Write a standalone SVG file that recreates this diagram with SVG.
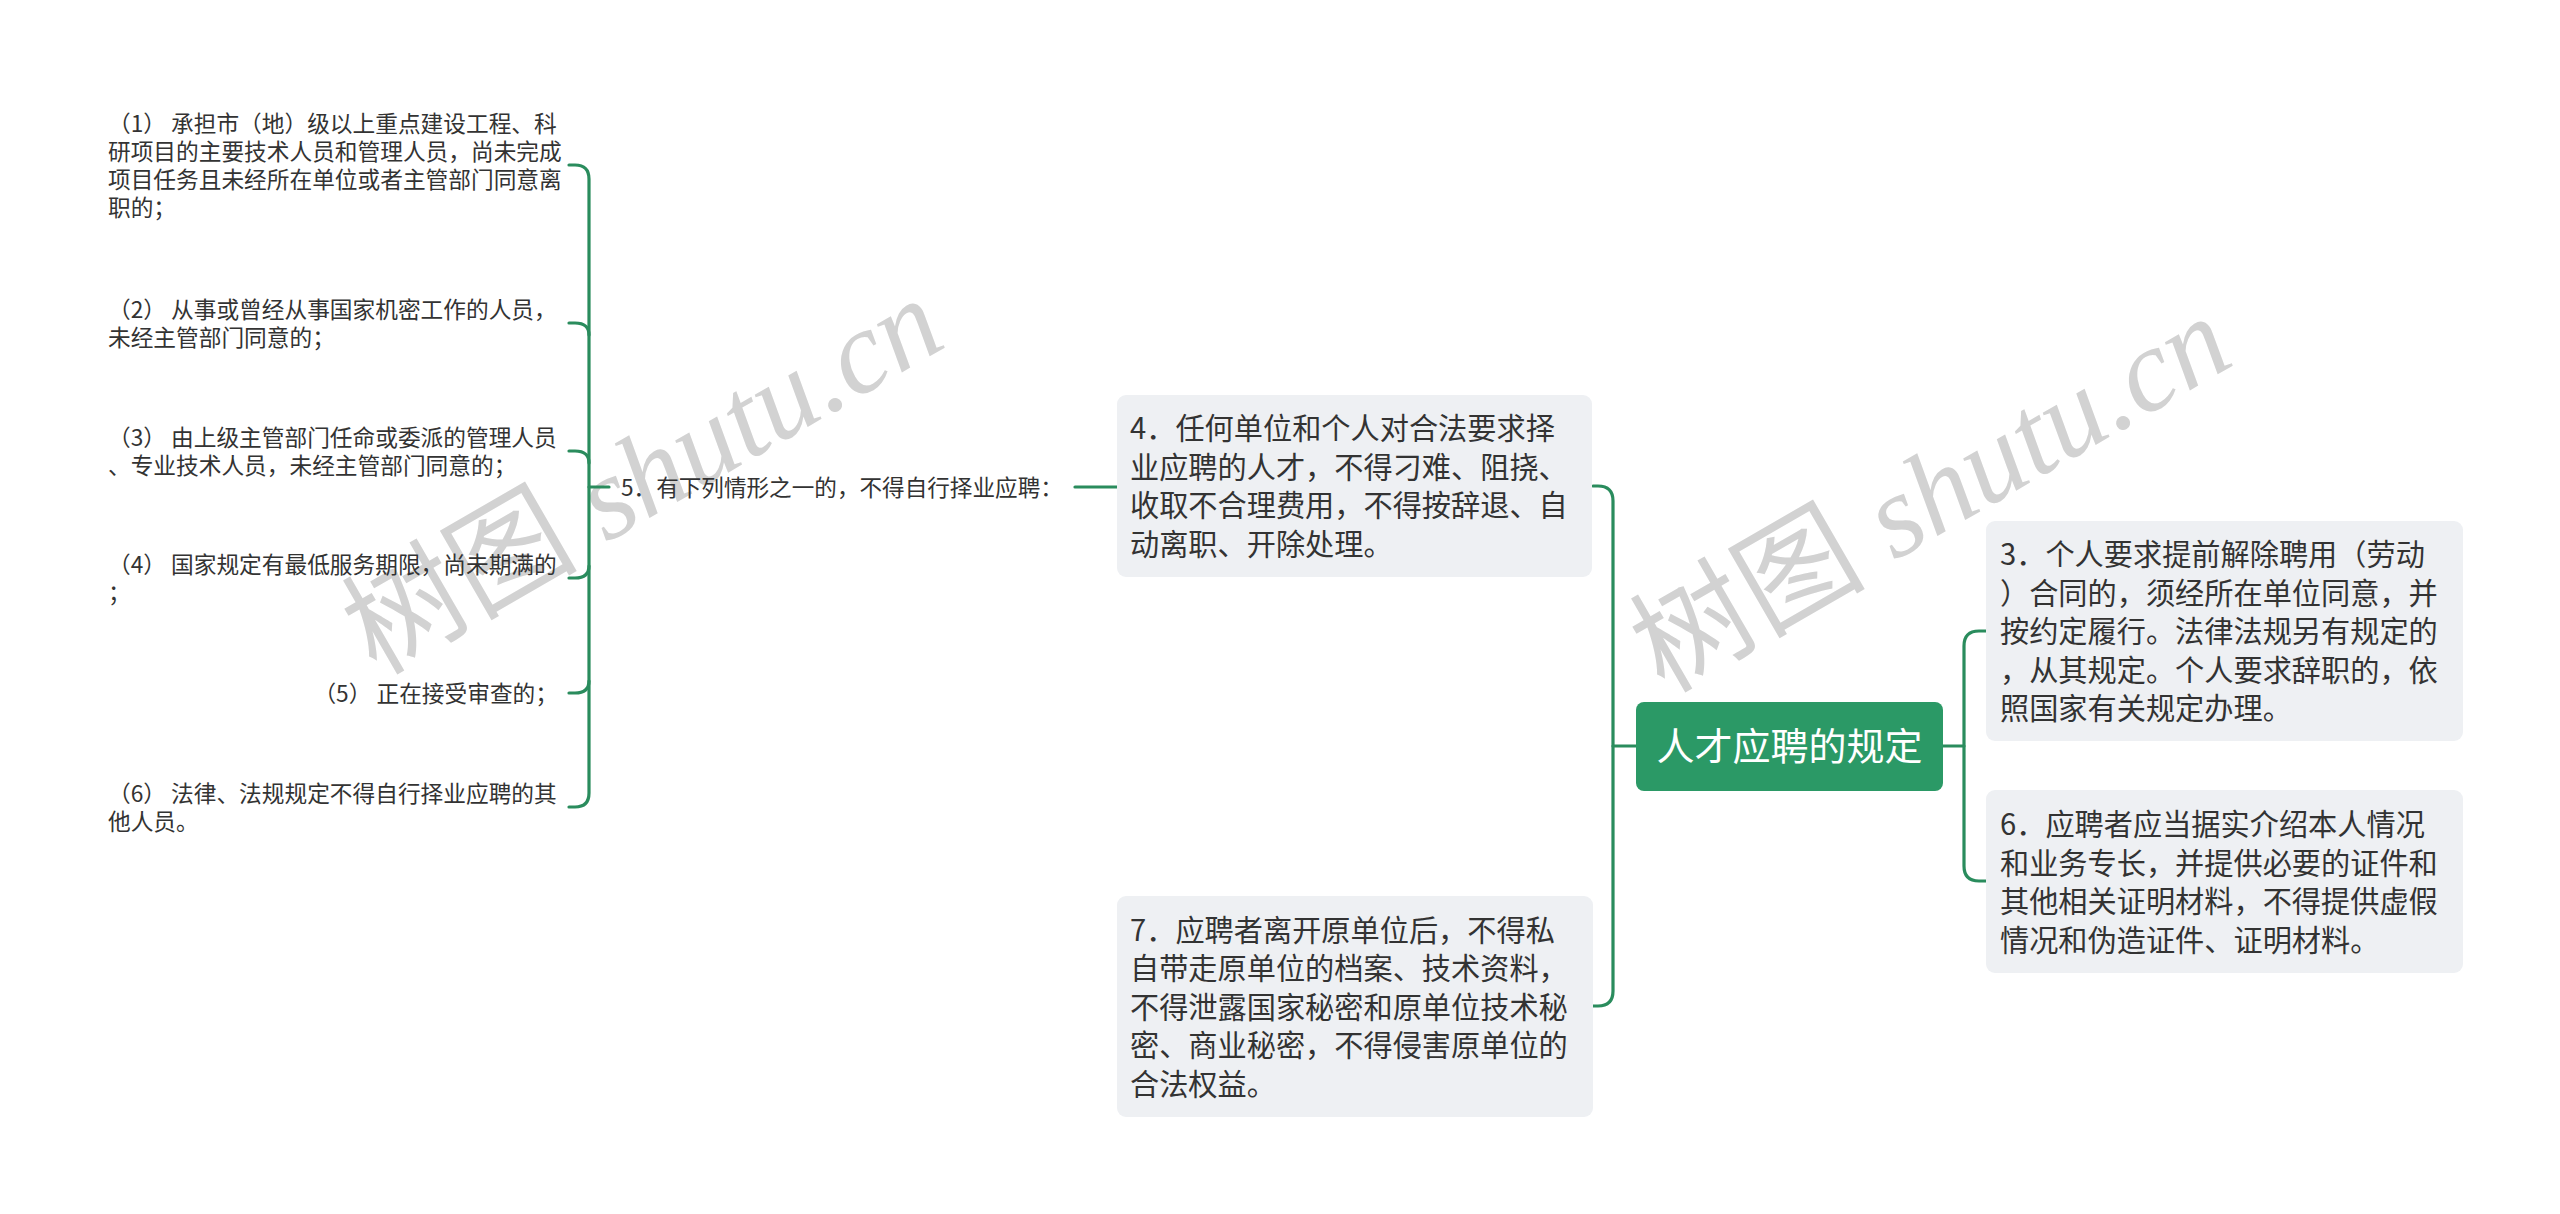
<svg xmlns="http://www.w3.org/2000/svg" width="2560" height="1214" viewBox="0 0 2560 1214">
<defs>
<style>
.bg{fill:#ffffff}
.wm{font-family:"Liberation Serif","Noto Sans CJK SC",serif;font-size:118px;fill:#d2d2d2}
.wm .it{font-style:italic}
.box{fill:#eef0f3}
.root{fill:#2b9966}
.rt{font-family:"Noto Sans CJK SC",sans-serif;font-size:38px;fill:#ffffff;text-anchor:middle}
.nt{font-family:"Noto Sans CJK SC",sans-serif;font-size:29.2px;fill:#333333}
.ct{font-family:"Noto Sans CJK SC",sans-serif;font-size:22.7px;fill:#333333}
.lt{font-family:"Noto Sans CJK SC",sans-serif;font-size:22.6px;fill:#333333}
.cn{fill:none;stroke:#2a8c5d;stroke-width:3.2;stroke-linecap:round;stroke-linejoin:round}
</style>
</defs>
<rect class="bg" x="0" y="0" width="2560" height="1214"/>
<g id="watermarks">
<text class="wm" transform="translate(376,676) rotate(-30)">树图<tspan class="it"> shutu.cn</tspan></text>
<text class="wm" transform="translate(1664,694) rotate(-30)">树图<tspan class="it"> shutu.cn</tspan></text>
</g>
<g id="connectors">
<path class="cn" d="M1636,746 H1613"/>
<path class="cn" d="M1593,486 H1598 Q1613,486 1613,501 V991 Q1613,1006 1598,1006 H1593"/>
<path class="cn" d="M1943,746 H1964"/>
<path class="cn" d="M1986,631 H1979 Q1964,631 1964,646 V866 Q1964,881 1979,881 H1986"/>
<path class="cn" d="M1075,487 H1117"/>
<path class="cn" d="M609,487 H589"/>
<path class="cn" d="M569,165 H575 Q589,165 589,179 V793 Q589,807 575,807 H569"/>
<path class="cn" d="M569,323 H575 Q589,323 589,335"/>
<path class="cn" d="M569,451 H575 Q589,451 589,463"/>
<path class="cn" d="M569,578 H575 Q589,578 589,566"/>
<path class="cn" d="M569,693 H575 Q589,693 589,681"/>
</g>
<g id="root">
<rect class="root" x="1636" y="702" width="307" height="89" rx="8"/>
<text class="rt" x="1789.5" y="760">人才应聘的规定</text>
</g>
<g id="n4">
<rect class="box" x="1117" y="395" width="475" height="182" rx="9"/>
<text class="nt" x="1130" y="439"><tspan x="1130">4．任何单位和个人对合法要求择</tspan><tspan x="1130" dy="38.5">业应聘的人才，不得刁难、阻挠、</tspan><tspan x="1130" dy="38.5">收取不合理费用，不得按辞退、自</tspan><tspan x="1130" dy="38.5">动离职、开除处理。</tspan></text>
</g>
<g id="n7">
<rect class="box" x="1117" y="896" width="476" height="221" rx="9"/>
<text class="nt" x="1130" y="940.5"><tspan x="1130">7．应聘者离开原单位后，不得私</tspan><tspan x="1130" dy="38.5">自带走原单位的档案、技术资料，</tspan><tspan x="1130" dy="38.5">不得泄露国家秘密和原单位技术秘</tspan><tspan x="1130" dy="38.5">密、商业秘密，不得侵害原单位的</tspan><tspan x="1130" dy="38.5">合法权益。</tspan></text>
</g>
<g id="n3">
<rect class="box" x="1986" y="521" width="477" height="220" rx="9"/>
<text class="nt" x="2000" y="565"><tspan x="2000">3．个人要求提前解除聘用（劳动</tspan><tspan x="2000" dy="38.5">）合同的，须经所在单位同意，并</tspan><tspan x="2000" dy="38.5">按约定履行。法律法规另有规定的</tspan><tspan x="2000" dy="38.5">，从其规定。个人要求辞职的，依</tspan><tspan x="2000" dy="38.5">照国家有关规定办理。</tspan></text>
</g>
<g id="n6">
<rect class="box" x="1986" y="790" width="477" height="183" rx="9"/>
<text class="nt" x="2000" y="835"><tspan x="2000">6．应聘者应当据实介绍本人情况</tspan><tspan x="2000" dy="38.5">和业务专长，并提供必要的证件和</tspan><tspan x="2000" dy="38.5">其他相关证明材料，不得提供虚假</tspan><tspan x="2000" dy="38.5">情况和伪造证件、证明材料。</tspan></text>
</g>
<g id="n5">
<text class="lt" x="621" y="495.5">5．有下列情形之一的，不得自行择业应聘：</text>
</g>
<g id="c1">
<text class="ct" x="108" y="132"><tspan x="108">（1） 承担市（地）级以上重点建设工程、科</tspan><tspan x="108" dy="28">研项目的主要技术人员和管理人员，尚未完成</tspan><tspan x="108" dy="28">项目任务且未经所在单位或者主管部门同意离</tspan><tspan x="108" dy="28">职的；</tspan></text>
</g>
<g id="c2">
<text class="ct" x="108" y="317.6"><tspan x="108">（2） 从事或曾经从事国家机密工作的人员，</tspan><tspan x="108" dy="28">未经主管部门同意的；</tspan></text>
</g>
<g id="c3">
<text class="ct" x="108" y="445.6"><tspan x="108">（3） 由上级主管部门任命或委派的管理人员</tspan><tspan x="108" dy="28">、专业技术人员，未经主管部门同意的；</tspan></text>
</g>
<g id="c4">
<text class="ct" x="108" y="572.6"><tspan x="108">（4） 国家规定有最低服务期限，尚未期满的</tspan><tspan x="108" dy="28">；</tspan></text>
</g>
<g id="c5">
<text class="ct" x="558" y="701.6" text-anchor="end">（5） 正在接受审查的；</text>
</g>
<g id="c6">
<text class="ct" x="108" y="802"><tspan x="108">（6） 法律、法规规定不得自行择业应聘的其</tspan><tspan x="108" dy="28">他人员。</tspan></text>
</g>
</svg>
